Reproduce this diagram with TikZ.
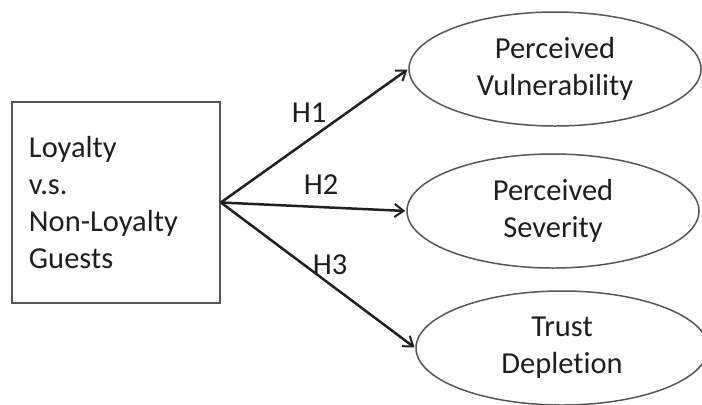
\documentclass[tikz,border=0pt]{standalone}
\usepackage{fontspec}
\setmainfont{Carlito}[Ligatures={NoCommon}]
\usetikzlibrary{shapes.geometric,arrows.meta}
\definecolor{inkgray}{HTML}{1E1E1E}
\definecolor{edgegray}{HTML}{555555}
\tikzset{
  construct/.style={ellipse, draw=edgegray, line width=1.5pt, minimum width=292bp,
    minimum height=114bp, inner sep=0pt, align=center, text=inkgray},
  groupbox/.style={rectangle, draw=edgegray, line width=1.7pt, minimum width=208bp,
    minimum height=201bp, text width=174bp, inner xsep=17bp, inner ysep=0pt,
    align=left, text=inkgray},
  hypo/.style={-{Straight Barb[length=9bp,width=13bp,line width=2pt]}, line width=2.5pt,
    draw=black!88, shorten >=1bp},
  hlabel/.style={text=inkgray, inner sep=0pt}
}
\begin{document}
\begin{tikzpicture}[x=1bp,y=-1bp,
  every node/.append style={font=\fontsize{30.5bp}{37bp}\selectfont}]
  \useasboundingbox (0,0) rectangle (702,404);

  % independent variable
  \node[groupbox] (grp) at (116,202.5) {Loyalty\\v.s.\\Non-Loyalty\\Guests};

  % outcome constructs
  \node[construct] (vul) at (555,69)  {Perceived\\Vulnerability};
  \node[construct] (sev) at (553,211) {Perceived\\Severity};
  \node[construct] (tru) at (562,348) {Trust\\Depletion};

  % hypothesised paths
  \coordinate (src) at (grp.east);
  \draw[hypo] (src) -- (vul.west);
  \draw[hypo] (src) -- (sev.west);
  \draw[hypo] (src) -- (tru.west);

  \node[hlabel] (h1) at (309,113) {H1};
  \node[hlabel] (h2) at (321,185) {H2};
  \node[hlabel] (h3) at (330,265) {H3};
\end{tikzpicture}
\end{document}
